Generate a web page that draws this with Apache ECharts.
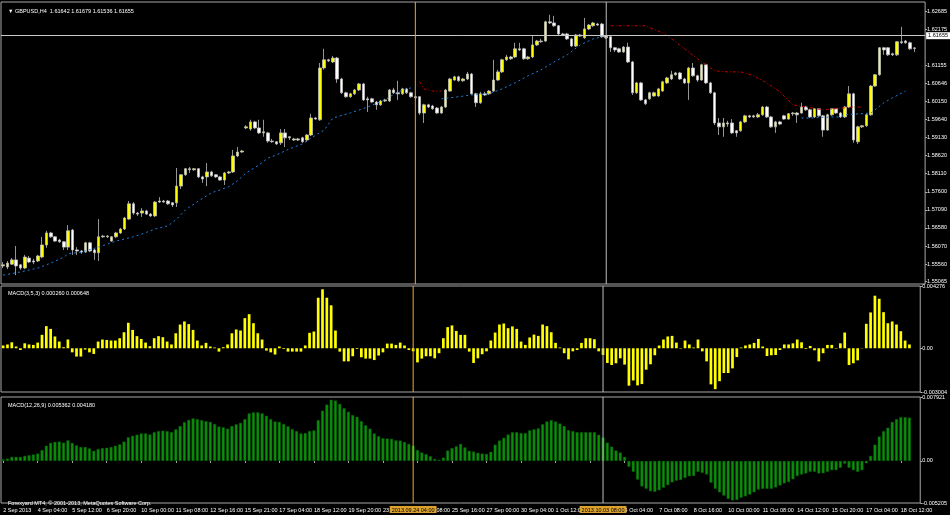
<!DOCTYPE html>
<html>
<head>
<meta charset="utf-8">
<title>GBPUSD,H4</title>
<script src="https://cdn.jsdelivr.net/npm/echarts@6/dist/echarts.min.js"></script>
<style>
  html, body { margin: 0; padding: 0; background: #000; }
  #chart { width: 950px; height: 515px; }
</style>
</head>
<body>
<div id="chart"></div>
<script>
// time axis labels, one every 8 H4 bars
const timeLabels = ['2 Sep 2013', '4 Sep 04:00', '5 Sep 12:00', '6 Sep 20:00', '10 Sep 00:00', '11 Sep 08:00',
  '12 Sep 16:00', '15 Sep 21:00', '17 Sep 04:00', '18 Sep 12:00', '19 Sep 20:00', '23 Sep 00:00', '24 Sep 08:00',
  '25 Sep 16:00', '27 Sep 00:00', '30 Sep 04:00', '1 Oct 12:00', '2 Oct 20:00', '4 Oct 04:00', '7 Oct 08:00',
  '8 Oct 16:00', '10 Oct 00:00', '11 Oct 08:00', '14 Oct 12:00', '15 Oct 20:00', '17 Oct 04:00', '18 Oct 12:00'];

const priceTicks = [1.55065, 1.55560, 1.56070, 1.56580, 1.57090, 1.57600, 1.58110, 1.58620, 1.59130,
  1.59640, 1.60150, 1.60646, 1.61155, 1.62175, 1.62685];
const fastTicks = [-0.003004, 0, 0.004276];
const slowTicks = [-0.005205, 0, 0.007921];

const lastPrice = 1.61655;
const markerBars = [95, 139];
const markerTimes = ['2013.09.24 04:00', '2013.10.03 08:00'];
const markerColors = ['#f0a632', '#c0c0c0'];

const openPrices = [
  1.5551, 1.5548, 1.5556, 1.5568, 1.5554, 1.5545, 1.5573, 1.5565, 1.5565, 1.5576,
  1.5610, 1.5644, 1.5633, 1.5624, 1.5619, 1.5604, 1.5652, 1.5596, 1.5593, 1.5590,
  1.5616, 1.5596, 1.5588, 1.5635, 1.5633, 1.5621, 1.5633, 1.5644, 1.5655, 1.5683,
  1.5726, 1.5700, 1.5700, 1.5706, 1.5697, 1.5692, 1.5734, 1.5731, 1.5734, 1.5729,
  1.5729, 1.5776, 1.5808, 1.5825, 1.5822, 1.5825, 1.5802, 1.5802, 1.5816, 1.5808,
  1.5802, 1.5793, 1.5813, 1.5816, 1.5861, 1.5872, 1.5940, 1.5937, 1.5957, 1.5940,
  1.5926, 1.5926, 1.5903, 1.5901, 1.5898, 1.5926, 1.5915, 1.5906, 1.5909, 1.5912,
  1.5906, 1.5920, 1.5968, 1.5963, 1.6109, 1.6132, 1.6126, 1.6137, 1.6078, 1.6039,
  1.6028, 1.6036, 1.6047, 1.6064, 1.6022, 1.6022, 1.6013, 1.6005, 1.6016, 1.6016,
  1.6047, 1.6039, 1.6036, 1.6050, 1.6039, 1.6028, 1.6028, 1.5982, 1.6005, 1.6002,
  1.5996, 1.5982, 1.5999, 1.6044, 1.6075, 1.6084, 1.6073, 1.6078, 1.6092, 1.6036,
  1.6011, 1.6036, 1.6036, 1.6044, 1.6075, 1.6098, 1.6132, 1.6140, 1.6140, 1.6163,
  1.6163, 1.6135, 1.6140, 1.6174, 1.6185, 1.6185, 1.6239, 1.6236, 1.6228, 1.6205,
  1.6205, 1.6191, 1.6171, 1.6202, 1.6194, 1.6219, 1.6228, 1.6233, 1.6233, 1.6199,
  1.6197, 1.6166, 1.6163, 1.6154, 1.6168, 1.6126, 1.6039, 1.6067, 1.6019, 1.6022,
  1.6030, 1.6030, 1.6044, 1.6067, 1.6078, 1.6090, 1.6095, 1.6078, 1.6067, 1.6109,
  1.6087, 1.6075, 1.6118, 1.6067, 1.6039, 1.5954, 1.5943, 1.5954, 1.5954, 1.5932,
  1.5932, 1.5957, 1.5974, 1.5971, 1.5971, 1.5977, 1.5999, 1.5971, 1.5943, 1.5957,
  1.5974, 1.5965, 1.5980, 1.5982, 1.5982, 1.5999, 1.5991, 1.5971, 1.5994, 1.5974,
  1.5934, 1.5977, 1.5994, 1.5982, 1.5971, 1.5999, 1.6036, 1.5901, 1.5943, 1.5946,
  1.5977, 1.6058, 1.6090, 1.6166, 1.6166, 1.6149, 1.6146, 1.6183, 1.6185, 1.6180,
  1.61642
];
const highPrices = [
  1.5562, 1.5565, 1.5573, 1.5607, 1.5556, 1.5582, 1.5579, 1.5571, 1.5582, 1.5633,
  1.5650, 1.5647, 1.5635, 1.5627, 1.5621, 1.5666, 1.5655, 1.5604, 1.5596, 1.5619,
  1.5619, 1.5599, 1.5683, 1.5638, 1.5638, 1.5635, 1.5647, 1.5658, 1.5689, 1.5734,
  1.5731, 1.5703, 1.5714, 1.5709, 1.5700, 1.5734, 1.5745, 1.5737, 1.5737, 1.5731,
  1.5827, 1.5810, 1.5827, 1.5830, 1.5827, 1.5827, 1.5805, 1.5841, 1.5819, 1.5810,
  1.5805, 1.5816, 1.5819, 1.5878, 1.5886, 1.5878, 1.5948, 1.5963, 1.5960, 1.5963,
  1.5963, 1.5929, 1.5909, 1.5903, 1.5937, 1.5937, 1.5917, 1.5912, 1.5912, 1.5915,
  1.5923, 1.5980, 1.5971, 1.6123, 1.6163, 1.6135, 1.6143, 1.6140, 1.6081, 1.6042,
  1.6039, 1.6050, 1.6067, 1.6067, 1.6028, 1.6025, 1.6016, 1.6019, 1.6022, 1.6050,
  1.6053, 1.6073, 1.6053, 1.6053, 1.6042, 1.6030, 1.6030, 1.6008, 1.6008, 1.6005,
  1.5999, 1.6002, 1.6050, 1.6081, 1.6087, 1.6087, 1.6081, 1.6098, 1.6095, 1.6039,
  1.6042, 1.6042, 1.6047, 1.6132, 1.6104, 1.6135, 1.6146, 1.6143, 1.6180, 1.6180,
  1.6166, 1.6143, 1.6199, 1.6188, 1.6191, 1.6242, 1.6259, 1.6256, 1.6230, 1.6208,
  1.6208, 1.6194, 1.6205, 1.6205, 1.6250, 1.6233, 1.6239, 1.6236, 1.6236, 1.6202,
  1.6199, 1.6168, 1.6166, 1.6171, 1.6180, 1.6129, 1.6070, 1.6070, 1.6022, 1.6042,
  1.6042, 1.6053, 1.6073, 1.6084, 1.6101, 1.6098, 1.6098, 1.6081, 1.6112, 1.6123,
  1.6090, 1.6121, 1.6121, 1.6070, 1.6042, 1.5968, 1.5968, 1.5960, 1.5965, 1.5934,
  1.5960, 1.5977, 1.5977, 1.5977, 1.5982, 1.6002, 1.6002, 1.5974, 1.5960, 1.5960,
  1.5977, 1.5982, 1.5985, 1.5985, 1.6011, 1.6002, 1.5994, 1.5996, 1.5996, 1.5977,
  1.5980, 1.5996, 1.5996, 1.5985, 1.6002, 1.6058, 1.6039, 1.5946, 1.5948, 1.5980,
  1.6061, 1.6092, 1.6168, 1.6168, 1.6168, 1.6152, 1.6185, 1.6225, 1.6188, 1.6183,
  1.61679
];
const lowPrices = [
  1.5545, 1.5542, 1.5554, 1.5525, 1.5540, 1.5542, 1.5559, 1.5556, 1.5562, 1.5573,
  1.5602, 1.5630, 1.5619, 1.5616, 1.5596, 1.5596, 1.5582, 1.5582, 1.5585, 1.5588,
  1.5590, 1.5568, 1.5565, 1.5630, 1.5630, 1.5619, 1.5630, 1.5641, 1.5652, 1.5681,
  1.5695, 1.5692, 1.5689, 1.5695, 1.5689, 1.5689, 1.5729, 1.5729, 1.5723, 1.5717,
  1.5717, 1.5768, 1.5805, 1.5813, 1.5819, 1.5799, 1.5785, 1.5776, 1.5802, 1.5799,
  1.5791, 1.5779, 1.5810, 1.5813, 1.5858, 1.5870, 1.5937, 1.5932, 1.5937, 1.5923,
  1.5915, 1.5898, 1.5898, 1.5892, 1.5892, 1.5886, 1.5906, 1.5903, 1.5903, 1.5898,
  1.5901, 1.5917, 1.5963, 1.5960, 1.6104, 1.6126, 1.6123, 1.6067, 1.6036, 1.6025,
  1.6025, 1.6033, 1.6044, 1.6016, 1.5985, 1.6011, 1.5991, 1.6002, 1.6013, 1.6013,
  1.6036, 1.6019, 1.6033, 1.6036, 1.6025, 1.6019, 1.5977, 1.5954, 1.5996, 1.5991,
  1.5980, 1.5980, 1.5996, 1.6042, 1.6073, 1.6070, 1.6070, 1.6075, 1.6033, 1.5999,
  1.6008, 1.6030, 1.6033, 1.6042, 1.6073, 1.6095, 1.6129, 1.6132, 1.6137, 1.6157,
  1.6132, 1.6132, 1.6137, 1.6171, 1.6180, 1.6183, 1.6233, 1.6225, 1.6202, 1.6199,
  1.6188, 1.6168, 1.6168, 1.6197, 1.6191, 1.6216, 1.6225, 1.6228, 1.6194, 1.6191,
  1.6154, 1.6154, 1.6152, 1.6152, 1.6123, 1.6033, 1.6036, 1.6016, 1.6005, 1.6019,
  1.6028, 1.6028, 1.6042, 1.6064, 1.6075, 1.6087, 1.6075, 1.6064, 1.6019, 1.6084,
  1.6070, 1.6073, 1.6064, 1.6036, 1.5948, 1.5920, 1.5915, 1.5943, 1.5923, 1.5915,
  1.5929, 1.5954, 1.5968, 1.5968, 1.5968, 1.5974, 1.5968, 1.5940, 1.5926, 1.5948,
  1.5963, 1.5963, 1.5974, 1.5954, 1.5980, 1.5988, 1.5968, 1.5968, 1.5971, 1.5915,
  1.5932, 1.5974, 1.5980, 1.5968, 1.5968, 1.5996, 1.5898, 1.5895, 1.5940, 1.5943,
  1.5974, 1.6056, 1.6087, 1.6146, 1.6143, 1.6143, 1.6143, 1.6177, 1.6177, 1.6160,
  1.61536
];
const closePrices = [
  1.5554, 1.5559, 1.5568, 1.5551, 1.5545, 1.5576, 1.5562, 1.5562, 1.5579, 1.5610,
  1.5644, 1.5633, 1.5621, 1.5619, 1.5604, 1.5650, 1.5596, 1.5593, 1.5590, 1.5616,
  1.5593, 1.5588, 1.5633, 1.5633, 1.5635, 1.5633, 1.5644, 1.5655, 1.5686, 1.5726,
  1.5700, 1.5697, 1.5706, 1.5697, 1.5692, 1.5731, 1.5731, 1.5734, 1.5726, 1.5723,
  1.5776, 1.5808, 1.5825, 1.5822, 1.5825, 1.5802, 1.5796, 1.5816, 1.5805, 1.5802,
  1.5793, 1.5813, 1.5816, 1.5861, 1.5872, 1.5875, 1.5943, 1.5957, 1.5940, 1.5926,
  1.5929, 1.5903, 1.5901, 1.5895, 1.5926, 1.5912, 1.5912, 1.5909, 1.5906, 1.5901,
  1.5920, 1.5968, 1.5965, 1.6109, 1.6132, 1.6129, 1.6137, 1.6078, 1.6039, 1.6028,
  1.6036, 1.6047, 1.6064, 1.6019, 1.6019, 1.6013, 1.6005, 1.6016, 1.6019, 1.6047,
  1.6039, 1.6036, 1.6050, 1.6039, 1.6028, 1.6025, 1.5982, 1.6005, 1.5999, 1.5994,
  1.5982, 1.5999, 1.6047, 1.6078, 1.6084, 1.6073, 1.6078, 1.6092, 1.6036, 1.6011,
  1.6036, 1.6033, 1.6044, 1.6075, 1.6098, 1.6132, 1.6140, 1.6135, 1.6163, 1.6160,
  1.6135, 1.6140, 1.6174, 1.6185, 1.6183, 1.6239, 1.6236, 1.6228, 1.6205, 1.6202,
  1.6191, 1.6171, 1.6202, 1.6199, 1.6219, 1.6230, 1.6236, 1.6230, 1.6197, 1.6194,
  1.6166, 1.6160, 1.6154, 1.6168, 1.6126, 1.6039, 1.6067, 1.6019, 1.6008, 1.6039,
  1.6039, 1.6050, 1.6070, 1.6081, 1.6090, 1.6095, 1.6078, 1.6067, 1.6109, 1.6087,
  1.6075, 1.6118, 1.6067, 1.6039, 1.5954, 1.5943, 1.5954, 1.5951, 1.5926, 1.5926,
  1.5957, 1.5974, 1.5971, 1.5974, 1.5977, 1.5999, 1.5971, 1.5943, 1.5957, 1.5951,
  1.5965, 1.5980, 1.5982, 1.5977, 1.5999, 1.5991, 1.5971, 1.5994, 1.5974, 1.5934,
  1.5977, 1.5994, 1.5982, 1.5971, 1.5999, 1.6036, 1.5906, 1.5943, 1.5946, 1.5977,
  1.6058, 1.6090, 1.6166, 1.6160, 1.6146, 1.6146, 1.6183, 1.6180, 1.6180, 1.6163,
  1.61655
];

// moving average, drawn in pieces: [bar index, price]
const blueMaSegments = [
  [[0, 1.5525], [4, 1.5534], [8, 1.5545], [11, 1.5559], [14, 1.5576], [15, 1.5585], [18, 1.5590],
   [22, 1.5604], [26, 1.5621], [30, 1.5633], [32, 1.5641], [35, 1.5655], [38, 1.5664], [40, 1.5683],
   [42, 1.5709], [45, 1.5734], [48, 1.5757], [52, 1.5774], [54, 1.5791], [56, 1.5813], [59, 1.5836],
   [61, 1.5855], [63, 1.5864], [66, 1.5881], [69, 1.5895], [71, 1.5912], [74, 1.5934], [76, 1.5968],
   [80, 1.5982], [84, 1.5999], [88, 1.6019], [91, 1.6042], [94, 1.6053]],
  [[101, 1.6022], [105, 1.6028], [108, 1.6033], [112, 1.6036], [115, 1.6050], [118, 1.6067],
   [121, 1.6087], [124, 1.6104], [127, 1.6126], [130, 1.6146], [133, 1.6174], [136, 1.6191], [138, 1.6197]],
  [[184, 1.5968], [186, 1.5968], [191, 1.5971], [193, 1.5971], [194, 1.5977], [200, 1.5982],
   [203, 1.6011], [205, 1.6025], [208, 1.6044]]
];
const redMaSegments = [
  [[96, 1.6070], [97, 1.6050], [99, 1.6044], [101, 1.6044]],
  [[140, 1.6228], [148, 1.6228], [152, 1.6208], [155, 1.6183], [158, 1.6154], [161, 1.6126],
   [164, 1.6101], [167, 1.6098], [170, 1.6098], [173, 1.6087], [176, 1.6067], [179, 1.6042],
   [182, 1.6005], [189, 1.5991], [196, 1.5999], [198, 1.5999]]
];

const macdFast = [
  0.00019, 0.00026, 0.00041, 0.00012, -0.00012, 0.00034, 0.00026, 0.00023, 0.00039, 0.00092,
  0.00152, 0.00133, 0.00081, 0.00046, 0.00007, 0.00060, -0.00028, -0.00057, -0.00057, -0.00009,
  -0.00028, -0.00039, 0.00046, 0.00060, 0.00057, 0.00053, 0.00053, 0.00069, 0.00110, 0.00175,
  0.00126, 0.00083, 0.00064, 0.00039, 0.00014, 0.00069, 0.00083, 0.00076, 0.00046, 0.00026,
  0.00103, 0.00163, 0.00184, 0.00166, 0.00126, 0.00053, 0.00019, 0.00037, 0.00012, 0.00005,
  -0.00023, 0.00007, 0.00026, 0.00103, 0.00129, 0.00122, 0.00207, 0.00234, 0.00172, 0.00103,
  0.00060, -0.00016, -0.00028, -0.00043, 0.00012, -0.00005, -0.00023, -0.00023, -0.00023, -0.00023,
  0.00019, 0.00106, 0.00115, 0.00347, 0.00405, 0.00347, 0.00295, 0.00122, -0.00023, -0.00090,
  -0.00090, -0.00055, -0.00005, -0.00062, -0.00071, -0.00071, -0.00081, -0.00050, -0.00028, 0.00032,
  0.00032, 0.00023, 0.00039, 0.00019, -0.00012, -0.00021, -0.00097, -0.00071, -0.00055, -0.00055,
  -0.00069, -0.00034, 0.00069, 0.00145, 0.00157, 0.00119, 0.00092, 0.00092, -0.00023, -0.00101,
  -0.00069, -0.00041, -0.00021, 0.00053, 0.00108, 0.00163, 0.00170, 0.00138, 0.00150, 0.00133,
  0.00046, 0.00023, 0.00074, 0.00094, 0.00085, 0.00163, 0.00152, 0.00110, 0.00037, 0.00005,
  -0.00034, -0.00076, -0.00021, -0.00012, 0.00037, 0.00069, 0.00069, 0.00062, -0.00021, -0.00046,
  -0.00101, -0.00115, -0.00103, -0.00069, -0.00112, -0.00257, -0.00221, -0.00255, -0.00246, -0.00147,
  -0.00110, -0.00048, 0.00019, 0.00060, 0.00081, 0.00085, 0.00039, -0.00003, 0.00053, 0.00026,
  0.00005, 0.00060, -0.00021, -0.00090, -0.00248, -0.00281, -0.00226, -0.00170, -0.00170, -0.00138,
  -0.00060, 0.00005, 0.00019, 0.00026, 0.00037, 0.00064, 0.00012, -0.00053, -0.00048, -0.00046,
  -0.00012, 0.00026, 0.00026, 0.00034, 0.00060, 0.00041, -0.00005, 0.00016, -0.00014, -0.00090,
  -0.00034, 0.00023, 0.00023, -0.00003, 0.00034, 0.00108, -0.00115, -0.00103, -0.00083, 0.00002,
  0.00168, 0.00246, 0.00361, 0.00340, 0.00248, 0.00172, 0.00184, 0.00163, 0.00117, 0.00053,
  0.00026
];
const macdSlow = [
  0.00021, 0.00029, 0.00051, 0.00051, 0.00051, 0.00063, 0.00072, 0.00080, 0.00092, 0.00135,
  0.00189, 0.00224, 0.00236, 0.00240, 0.00227, 0.00256, 0.00224, 0.00193, 0.00173, 0.00173,
  0.00155, 0.00126, 0.00148, 0.00160, 0.00164, 0.00173, 0.00189, 0.00206, 0.00240, 0.00294,
  0.00312, 0.00325, 0.00341, 0.00341, 0.00328, 0.00357, 0.00370, 0.00375, 0.00370, 0.00357,
  0.00392, 0.00433, 0.00480, 0.00509, 0.00527, 0.00518, 0.00505, 0.00493, 0.00484, 0.00458,
  0.00426, 0.00417, 0.00400, 0.00433, 0.00455, 0.00471, 0.00518, 0.00590, 0.00602, 0.00602,
  0.00590, 0.00560, 0.00518, 0.00489, 0.00484, 0.00458, 0.00429, 0.00395, 0.00370, 0.00341,
  0.00345, 0.00370, 0.00379, 0.00505, 0.00623, 0.00698, 0.00758, 0.00749, 0.00707, 0.00653,
  0.00610, 0.00568, 0.00547, 0.00493, 0.00442, 0.00400, 0.00341, 0.00307, 0.00282, 0.00278,
  0.00274, 0.00256, 0.00253, 0.00236, 0.00211, 0.00189, 0.00135, 0.00105, 0.00085, 0.00059,
  0.00025, 0.00013, 0.00042, 0.00130, 0.00160, 0.00181, 0.00211, 0.00168, 0.00126, 0.00117,
  0.00101, 0.00092, 0.00088, 0.00114, 0.00202, 0.00253, 0.00287, 0.00328, 0.00357, 0.00357,
  0.00345, 0.00345, 0.00379, 0.00392, 0.00404, 0.00455, 0.00489, 0.00505, 0.00489, 0.00464,
  0.00433, 0.00383, 0.00370, 0.00357, 0.00357, 0.00357, 0.00357, 0.00357, 0.00325, 0.00290,
  0.00227, 0.00177, 0.00130, 0.00105, 0.00051, -0.00072, -0.00135, -0.00231, -0.00316, -0.00345,
  -0.00375, -0.00383, -0.00362, -0.00332, -0.00299, -0.00265, -0.00244, -0.00236, -0.00211, -0.00189,
  -0.00186, -0.00135, -0.00148, -0.00168, -0.00269, -0.00345, -0.00388, -0.00429, -0.00471, -0.00489,
  -0.00484, -0.00455, -0.00438, -0.00417, -0.00388, -0.00354, -0.00345, -0.00345, -0.00345, -0.00328,
  -0.00303, -0.00278, -0.00261, -0.00227, -0.00186, -0.00168, -0.00155, -0.00135, -0.00135, -0.00155,
  -0.00152, -0.00135, -0.00114, -0.00114, -0.00085, -0.00034, -0.00085, -0.00114, -0.00135, -0.00114,
  -0.00029, 0.00063, 0.00202, 0.00303, 0.00370, 0.00413, 0.00484, 0.00518, 0.00543, 0.00543,
  0.005362
];

const chart = echarts.init(document.getElementById('chart'));

// 211 bars plus a few empty slots for the right shift
const slots = openPrices.length + 2;
const categories = [];
for (let i = 0; i < slots; i++) categories.push(String(i));

const candles = openPrices.map((o, i) => [o, closePrices[i], lowPrices[i], highPrices[i]]);

const font = 'Liberation Sans';
const txt = { color: '#ffffff', fontSize: 5.5, fontFamily: font, fontWeight: 'normal' };
const labelEvery = idx => idx % 8 === 0 && idx / 8 < timeLabels.length;

function xAxisFor(gridIndex, withLabels, hidden) {
  return {
    type: 'category', gridIndex: gridIndex, data: categories, boundaryGap: true, show: !hidden,
    axisLine: { show: false },
    axisTick: { show: withLabels, interval: labelEvery, alignWithLabel: true, length: 2, lineStyle: { color: '#b0b0b0' } },
    axisLabel: {
      show: withLabels, interval: labelEvery, align: 'left', margin: 4,
      color: '#ffffff', fontSize: 5.5, fontFamily: font,
      formatter: (v, idx) => timeLabels[idx / 8]
    },
    splitLine: { show: false }
  };
}

function yAxisFor(gridIndex, min, max, ticks, fmt) {
  return {
    type: 'value', gridIndex: gridIndex, position: 'right', min: min, max: max,
    axisLine: { show: false }, splitLine: { show: false },
    axisTick: { show: true, customValues: ticks, length: 2, lineStyle: { color: '#b0b0b0' } },
    axisLabel: { customValues: ticks, formatter: fmt, color: '#ffffff', fontSize: 5.5, fontFamily: font, margin: 2 }
  };
}

const oscFormat = v => (v === 0 ? '0.00' : v.toFixed(6));

// value range of each panel
const panelRanges = [[1.5500, 1.6295], [-0.003004, 0.004276], [-0.005205, 0.007921]];

const series = [
  {
    type: 'candlestick', xAxisIndex: 0, yAxisIndex: 0, data: candles, barWidth: 3, z: 3,
    itemStyle: { color: '#ffff00', color0: '#ffffff', borderColor: '#bdbdbd', borderColor0: '#bdbdbd', borderWidth: 0.8 },
    markLine: {
      silent: true, symbol: ['none', 'none'], animation: false,
      lineStyle: { color: '#c8c8c8', width: 1, type: 'solid' },
      label: {
        show: true, position: 'end', distance: 1, formatter: lastPrice.toFixed(5),
        color: '#000000', backgroundColor: '#ffffff', padding: [1, 2, 0, 2], fontSize: 5.5, fontFamily: font
      },
      data: [{ yAxis: lastPrice }]
    }
  },
  {
    type: 'bar', xAxisIndex: 1, yAxisIndex: 1, data: macdFast, barWidth: 2.7, z: 3,
    itemStyle: { color: '#ffff00' }
  },
  {
    type: 'bar', xAxisIndex: 2, yAxisIndex: 2, data: macdSlow, barWidth: 3, z: 3,
    itemStyle: { color: '#0c900c', borderColor: '#075a07', borderWidth: 0.5 }
  }
];

blueMaSegments.forEach(seg => series.push({
  type: 'line', xAxisIndex: 0, yAxisIndex: 0, data: seg, symbol: 'none', silent: true, z: 4,
  lineStyle: { color: '#1e80e4', width: 1, type: [2, 3] }
}));
redMaSegments.forEach(seg => series.push({
  type: 'line', xAxisIndex: 0, yAxisIndex: 0, data: seg, symbol: 'none', silent: true, z: 4,
  lineStyle: { color: '#c00000', width: 1, type: [3, 2, 1, 2] }
}));

// vertical time markers: 1px bars on hidden per-panel axes, reaching both ends of each panel;
// the bottom one also carries the time box under the axis
[0, 1, 2].forEach(panel => {
  const [lo, hi] = panelRanges[panel];
  const ends = panel === 0 ? [hi] : [hi, lo];
  ends.forEach(end => {
    const boxed = panel === 2 && end === lo;
    series.push({
      type: 'bar', xAxisIndex: 3 + panel, yAxisIndex: panel, silent: true, z: 6,
      barWidth: 1, barGap: '-100%',
      label: boxed ? {
        show: true, position: 'bottom', distance: 3,
        formatter: p => markerTimes[p.dataIndex],
        color: '#000000', backgroundColor: '#dca12c', padding: [1, 2, 0, 2], fontSize: 5.5, fontFamily: font
      } : { show: false },
      data: markerBars.map((b, k) => ({ value: [String(b), end], itemStyle: { color: markerColors[k] } }))
    });
  });
});

const option = {
  backgroundColor: '#000000',
  animation: false,
  title: [
    { text: '▼ GBPUSD,H4  1.61642 1.61679 1.61536 1.61655', left: 3, top: 3, textStyle: txt },
    { text: 'MACD(3,5,3) 0.000260 0.000648', left: 3, top: 285, textStyle: txt },
    { text: 'MACD(12,26,9) 0.005362 0.004180', left: 3, top: 397, textStyle: txt },
    { text: 'Forexyard MT4, © 2001-2013, MetaQuotes Software Corp.', left: 3, top: 495, textStyle: txt }
  ],
  grid: [
    { left: 1, right: 24, top: 2, height: 282, show: true, borderColor: '#a8a8a8', borderWidth: 1 },
    { left: 1, right: 24, top: 286, height: 106, show: true, borderColor: '#a8a8a8', borderWidth: 1 },
    { left: 1, right: 24, top: 397, height: 106, show: true, borderColor: '#a8a8a8', borderWidth: 1 }
  ],
  xAxis: [
    xAxisFor(0, false, false), xAxisFor(1, false, false), xAxisFor(2, true, false),
    xAxisFor(0, false, true), xAxisFor(1, false, true), xAxisFor(2, false, true)
  ],
  yAxis: [
    yAxisFor(0, panelRanges[0][0], panelRanges[0][1], priceTicks, v => v.toFixed(5)),
    yAxisFor(1, panelRanges[1][0], panelRanges[1][1], fastTicks, oscFormat),
    yAxisFor(2, panelRanges[2][0], panelRanges[2][1], slowTicks, oscFormat)
  ],
  series: series
};

chart.setOption(option);
</script>
</body>
</html>
